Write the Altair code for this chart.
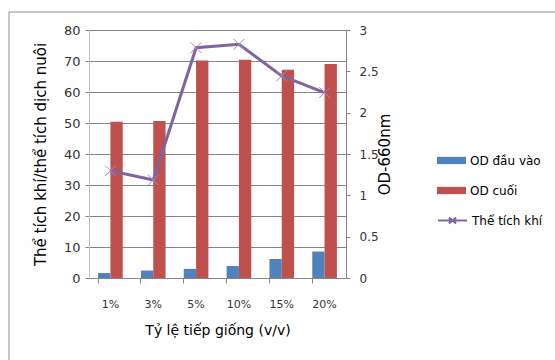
import altair as alt
import pandas as pd

categories = ["1%", "3%", "5%", "10%", "15%", "20%"]
od_dau_vao = [0.06, 0.09, 0.11, 0.145, 0.23, 0.32]
od_cuoi = [1.89, 1.90, 2.63, 2.64, 2.52, 2.59]
the_tich_khi = [34.6, 31.6, 74.3, 75.4, 65.2, 59.8]

bar_series = ["OD đầu vào", "OD cuối"]
line_series = "Thể tích khí"
bar_colors = ["#4F81BD", "#C0504D"]
line_color = "#8064A2"

rows = []
for c, a, b in zip(categories, od_dau_vao, od_cuoi):
    rows.append({"cat": c, "series": bar_series[0], "od": a})
    rows.append({"cat": c, "series": bar_series[1], "od": b})
bars_df = pd.DataFrame(rows)
line_df = pd.DataFrame({"cat": categories, "gas": the_tich_khi, "s": [line_series] * len(categories)})

FONT = "DejaVu Sans"
W, H = 257, 248
PL, PT = 89, 30

xscale = alt.Scale(domain=categories, paddingInner=0.425, paddingOuter=0.2125)
xaxis = alt.Axis(
    title="Tỷ lệ tiếp giống (v/v)", labelAngle=0, bandPosition=0,
    labelFontSize=11, labelColor="#333333", labelPadding=15,
    titleFontSize=14, titleFontWeight="normal", titleColor="#000000", titlePadding=14,
    tickSize=5, tickColor="#868686", domainColor="#868686", labelFont=FONT, titleFont=FONT,
)

bars = alt.Chart(bars_df).mark_bar().encode(
    x=alt.X("cat:N", sort=categories, scale=xscale, axis=xaxis),
    xOffset=alt.XOffset("series:N", sort=bar_series, scale=alt.Scale(domain=bar_series, paddingInner=0, paddingOuter=0)),
    y=alt.Y("od:Q", scale=alt.Scale(domain=[0, 3], nice=False),
            axis=alt.Axis(orient="right", title="OD-660nm", values=[0, 0.5, 1, 1.5, 2, 2.5, 3],
                          format="~g", grid=False, tickSize=4, tickColor="#868686", domainColor="#868686",
                          labelFontSize=12, labelColor="#333333", labelPadding=9, labelFont=FONT,
                          titleFont=FONT, titleFontSize=15, titleFontWeight="normal", titleColor="#000000",
                          titleAngle=270, titlePadding=14)),
    color=alt.Color("series:N", sort=bar_series,
                    scale=alt.Scale(domain=bar_series, range=bar_colors),
                    legend=alt.Legend(title=None, orient="none", legendX=348, legendY=116,
                                      symbolType="M-1,-0.25L1,-0.25L1,0.25L-1,0.25Z", symbolSize=841,
                                      symbolStrokeWidth=0, labelFont=FONT, labelFontSize=12,
                                      labelColor="#000000", labelOffset=4, rowPadding=9, padding=0)),
)

line = alt.Chart(line_df).mark_line(strokeWidth=3).encode(
    x=alt.X("cat:N", sort=categories, scale=xscale),
    y=alt.Y("gas:Q", scale=alt.Scale(domain=[0, 80], nice=False),
            axis=alt.Axis(orient="left", title="Thể tích khí/thể tích dịch nuôi",
                          values=list(range(0, 81, 10)), grid=True, gridColor="#868686",
                          tickSize=4, tickColor="#868686", domainColor="#BFBFBF",
                          labelFontSize=13, labelColor="#333333", labelPadding=5, labelFont=FONT,
                          titleFont=FONT, titleFontSize=15, titleFontWeight="normal", titleColor="#000000",
                          titlePadding=15)),
    stroke=alt.Stroke("s:N", scale=alt.Scale(domain=[line_series], range=[line_color]),
                      legend=alt.Legend(title=None, orient="none", legendX=348, legendY=175,
                                        symbolType="M-1,0L1,0M-0.25,-0.2L0.25,0.2M-0.25,0.2L0.25,-0.2",
                                        symbolSize=841, symbolStrokeWidth=2, labelFont=FONT,
                                        labelFontSize=12, labelColor="#000000", labelOffset=4, padding=0)),
)

points = alt.Chart(line_df).mark_point(
    shape="M-1,-1L1,1M-1,1L1,-1", size=110, strokeWidth=1, color="#9F8BC0", filled=False, opacity=1
).encode(
    x=alt.X("cat:N", sort=categories, scale=xscale),
    y=alt.Y("gas:Q", scale=alt.Scale(domain=[0, 80], nice=False), axis=None),
)

frame_top = alt.Chart(alt.Data(values=[{}])).mark_rule(color="#8C8C8C", strokeWidth=1).encode(
    x=alt.value(-80), x2=alt.value(555 - PL), y=alt.value(-18)
)
frame_left = alt.Chart(alt.Data(values=[{}])).mark_rule(color="#8C8C8C", strokeWidth=1).encode(
    x=alt.value(-80), y=alt.value(-18), y2=alt.value(360 - PT)
)

chart = alt.layer(bars, line, points, frame_top, frame_left).resolve_scale(
    y="independent", color="independent", stroke="independent"
).properties(
    width=W, height=H,
    autosize=alt.AutoSizeParams(type="none"),
    padding={"left": PL, "top": PT, "right": 555 - PL - W, "bottom": 360 - PT - H},
).configure_view(stroke=None).configure(background="white")

chart.save("out.html", embed_options={"renderer": "svg", "actions": False})
